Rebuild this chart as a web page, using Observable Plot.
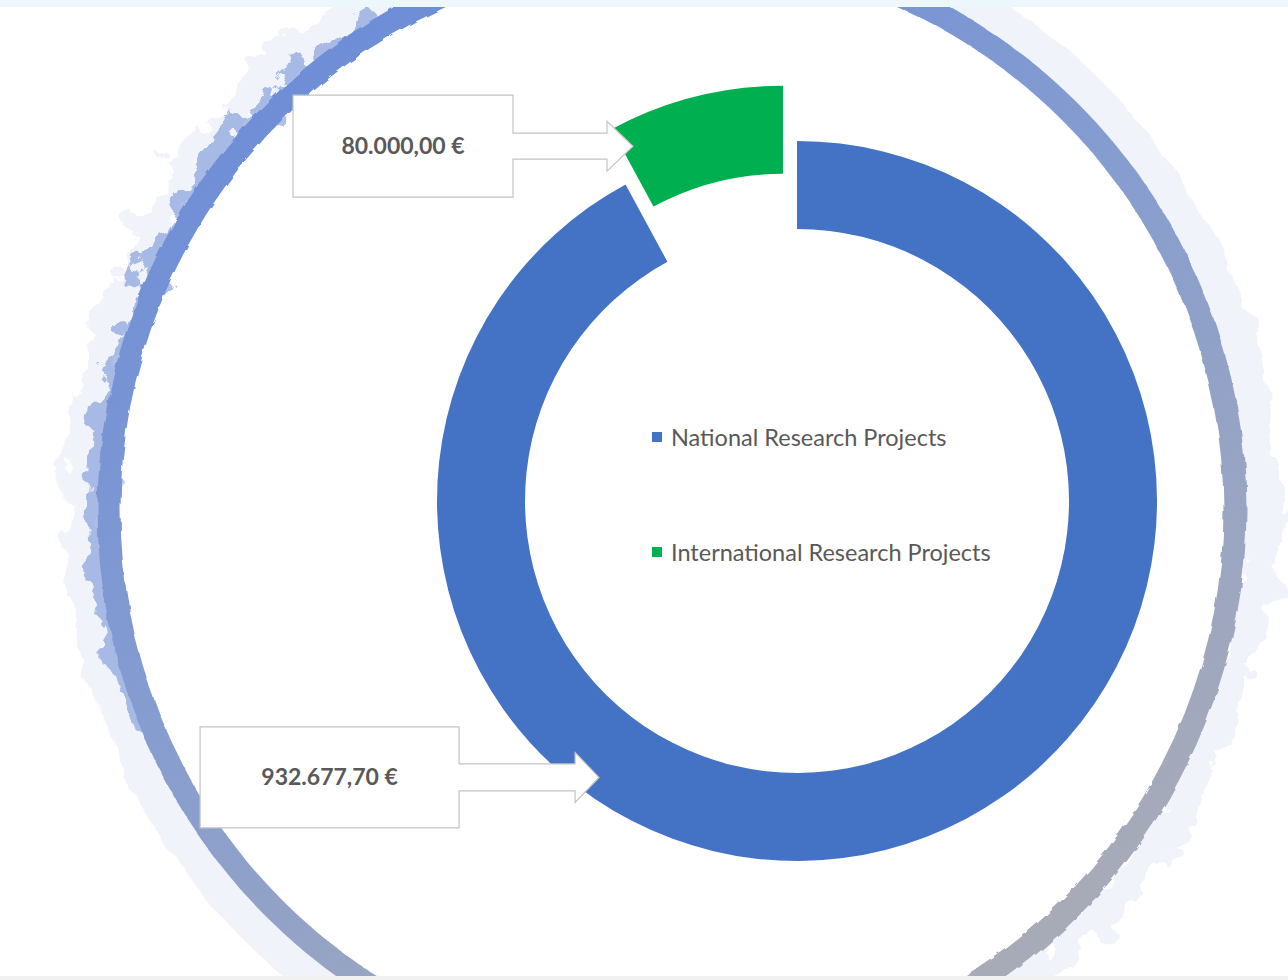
<!DOCTYPE html>
<html><head><meta charset="utf-8">
<script src="https://cdn.jsdelivr.net/npm/d3@7"></script>
<script src="https://cdn.jsdelivr.net/npm/@observablehq/plot@0.6"></script>
<style>
html,body{margin:0;padding:0;background:#fff;}
#wrap{position:relative;width:1288px;height:980px;overflow:hidden;}
#err{position:absolute;left:10px;top:10px;color:red;font:14px sans-serif;}
</style></head><body><div id="wrap"></div><div id="err"></div>
<script>
window.onerror = (m) => { document.getElementById("err").textContent += m + " | "; };
// ---- data ----
const categories = ["National Research Projects", "International Research Projects"];
const values = [932677.70, 80000.00];
const valueLabels = ["932.677,70 €", "80.000,00 €"];
const colors = ["#4472C4", "#00B050"];

// ---- layout (styling only) ----
const W = 1288, H = 980;
const donut = {cx: 797, cy: 501, outer: 360, inner: 272};
const explode = [0, 57];
const callouts = [
  {angle: 215.6, r: 340, boxW: 259, boxH: 101, gap: 140, head: 24, headHalf: 25, stemHalf: 13.5},
  {angle: -26.6, r: 335, boxW: 220, boxH: 102, gap: 120, head: 26, headHalf: 25, stemHalf: 13}
];
const legendPos = {x: 652, y0: 437, dy: 115, swatch: 10};
const ring = {cx: 672, cy: 510, r: 563};
const font = "Lato, 'Open Sans', sans-serif";

const data = categories.map((c, i) => ({category: c, value: values[i], label: valueLabels[i], i}));
const colorScale = Plot.scale({color: {type: "ordinal", domain: categories, range: colors}});

function ringDecoration() {
  const g = d3.create("svg:g");
  const defs = g.append("defs");
  const grad = defs.append("linearGradient").attr("id", "ringGrad")
    .attr("gradientUnits", "userSpaceOnUse").attr("x1", 380).attr("y1", 0).attr("x2", 950).attr("y2", 980);
  grad.append("stop").attr("offset", 0).attr("stop-color", "#6d8dd7");
  grad.append("stop").attr("offset", 0.45).attr("stop-color", "#869dd0");
  grad.append("stop").attr("offset", 1).attr("stop-color", "#a7abb8");
  const f1 = defs.append("filter").attr("id", "rough").attr("x", "-10%").attr("y", "-10%").attr("width", "120%").attr("height", "120%");
  f1.append("feTurbulence").attr("type", "fractalNoise").attr("baseFrequency", 0.05).attr("numOctaves", 3).attr("seed", 3).attr("result", "n");
  f1.append("feDisplacementMap").attr("in", "SourceGraphic").attr("in2", "n").attr("scale", 5);
  const f2 = defs.append("filter").attr("id", "splat").attr("x", "-10%").attr("y", "-10%").attr("width", "120%").attr("height", "120%");
  f2.append("feTurbulence").attr("type", "fractalNoise").attr("baseFrequency", 0.03).attr("numOctaves", 4).attr("seed", 7).attr("result", "n");
  f2.append("feDisplacementMap").attr("in", "SourceGraphic").attr("in2", "n").attr("scale", 40);

  // faint splatter halo
  g.append("circle").attr("cx", ring.cx).attr("cy", ring.cy).attr("r", ring.r + 24)
    .attr("fill", "none").attr("stroke", "#d6dff0").attr("stroke-width", 40)
    .attr("opacity", 0.35).attr("filter", "url(#splat)");
  // thicker brush on the upper left
  const thick = d3.arc().innerRadius(ring.r).outerRadius(ring.r + 20)
    .startAngle(-Math.PI * 0.62).endAngle(-Math.PI * 0.1);
  g.append("path").attr("transform", `translate(${ring.cx},${ring.cy})`).attr("d", thick())
    .attr("fill", "url(#ringGrad)").attr("opacity", 0.55).attr("filter", "url(#splat)");
  // main brush ring
  g.append("circle").attr("cx", ring.cx).attr("cy", ring.cy).attr("r", ring.r)
    .attr("fill", "none").attr("stroke", "url(#ringGrad)").attr("stroke-width", 23)
    .attr("filter", "url(#rough)");
  // top & bottom strips of the slide
  g.append("rect").attr("x", 0).attr("y", 0).attr("width", W).attr("height", 7).attr("fill", "#eef7fb");
  g.append("rect").attr("x", 0).attr("y", 976).attr("width", W).attr("height", 4).attr("fill", "#f1f1f1");
  return g.node();
}

function donutRender() {
  const g = d3.create("svg:g");
  const index = d3.range(data.length);
  const fill = index.map(i => colorScale.apply(data[i].category));
  const pie = d3.pie().sort(null).value(i => data[i].value)(index);
  const arc = d3.arc().innerRadius(donut.inner).outerRadius(donut.outer);
  const rad = Math.PI / 180;
  pie.forEach(p => {
    const i = p.data;
    const mid = (p.startAngle + p.endAngle) / 2;
    const ox = donut.cx + Math.sin(mid) * explode[i];
    const oy = donut.cy - Math.cos(mid) * explode[i];
    g.append("path").attr("transform", `translate(${ox},${oy})`).attr("d", arc(p))
      .attr("fill", fill[i]);
    const c = callouts[i];
    const tx = ox + Math.sin(c.angle * rad) * c.r;
    const ty = oy - Math.cos(c.angle * rad) * c.r;
    const bx1 = tx - c.gap, bx0 = bx1 - c.boxW, by0 = ty - c.boxH / 2, by1 = ty + c.boxH / 2;
    const hx = tx - c.head;
    const d = `M${bx0},${by0}L${bx1},${by0}L${bx1},${ty - c.stemHalf}L${hx},${ty - c.stemHalf}L${hx},${ty - c.headHalf}L${tx},${ty}L${hx},${ty + c.headHalf}L${hx},${ty + c.stemHalf}L${bx1},${ty + c.stemHalf}L${bx1},${by1}L${bx0},${by1}Z`;
    g.append("path").attr("d", d).attr("fill", "#fff").attr("stroke", "#c4c4c4").attr("stroke-width", 1.2);
    g.append("text").attr("x", (bx0 + bx1) / 2).attr("y", ty + 8)
      .attr("text-anchor", "middle").attr("font-family", font).attr("font-weight", 700)
      .attr("font-size", 23).attr("fill", "#595959").text(data[i].label);
  });
  index.forEach((i, k) => {
    const y = legendPos.y0 + k * legendPos.dy;
    g.append("rect").attr("x", legendPos.x).attr("y", y - legendPos.swatch / 2)
      .attr("width", legendPos.swatch).attr("height", legendPos.swatch).attr("fill", fill[i]);
    g.append("text").attr("x", legendPos.x + 19).attr("y", y + 8.5)
      .attr("text-anchor", "start")
      .attr("font-family", font).attr("font-size", 23.5).attr("fill", "#595959")
      .text(data[i].category);
  });
  return g.node();
}

const chart = Plot.plot({
  width: W, height: H,
  margin: 0,
  style: {background: "#fff", overflow: "visible"},
  marks: [ringDecoration, donutRender]
});
document.getElementById("wrap").appendChild(chart);
</script>
</body></html>
